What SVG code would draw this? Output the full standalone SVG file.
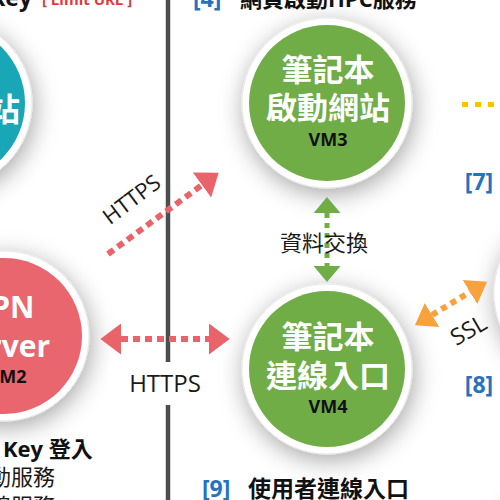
<svg xmlns="http://www.w3.org/2000/svg" width="500" height="500" viewBox="0 0 500 500">
<style>
.cjk{font-family:"Open Sans","Noto Sans CJK TC","Noto Sans CJK SC",sans-serif}
.big{font-size:31px;font-weight:bold;fill:#fff;text-anchor:middle}
.vm{font-size:18px;font-weight:bold;fill:#111;text-anchor:middle}
.lbl{font-size:22px;fill:#1a1a1a}
.num{font-size:23px;font-weight:bold;fill:#2472c0}
.ttl{font-size:23px;font-weight:bold;fill:#111}
.ring{fill:#fff;stroke:#e8e8e8;stroke-width:1}
.dred{stroke:#e9636b;stroke-width:6;stroke-dasharray:7 5;fill:none}
.dgrn{stroke:#70ad47;stroke-width:5;stroke-dasharray:5 5;fill:none}
.dorg{stroke:#f9a23c;stroke-width:6;stroke-dasharray:6 5;fill:none}
</style>
<defs>
<filter id="sh" x="-50%" y="-50%" width="200%" height="200%">
<feDropShadow dx="2" dy="6" stdDeviation="12" flood-color="#000" flood-opacity="0.35"/>
</filter>
<marker id="aR" viewBox="0 0 20 30" refX="0" refY="15" markerWidth="21" markerHeight="31" markerUnits="userSpaceOnUse" orient="auto-start-reverse"><path d="M0,0 L20,15 L0,30 Z" fill="#e9636b"/></marker>
<marker id="aG" viewBox="0 0 16 27" refX="0" refY="13.5" markerWidth="17" markerHeight="27" markerUnits="userSpaceOnUse" orient="auto-start-reverse"><path d="M0,0 L16,13.5 L0,27 Z" fill="#70ad47"/></marker>
<marker id="aO" viewBox="0 0 20 28" refX="0" refY="14" markerWidth="20" markerHeight="28" markerUnits="userSpaceOnUse" orient="auto-start-reverse"><path d="M0,0 L20,14 L0,28 Z" fill="#f9a23c"/></marker>
</defs>
<rect width="500" height="500" fill="#fff"/>

<!-- divider -->
<line x1="168" y1="0" x2="168" y2="500" stroke="#4d4d4d" stroke-width="4.5"/>

<!-- offscreen right circles -->
<g id="right-nodes">
<circle cx="580" cy="293" r="86" class="ring" filter="url(#sh)"/>
<circle cx="582" cy="560" r="90" class="ring" filter="url(#sh)"/>
</g>

<!-- top labels -->
<g id="top-labels" class="cjk">
<text x="32" y="6" text-anchor="end" class="ttl">USB Key</text>
<text x="42" y="5" style="font-size:15px;font-weight:bold;fill:#e03a3a">[ Limit URL ]</text>
<text x="193" y="7" class="num">[4]</text>
<text x="240" y="7" class="ttl" style="font-size:22px">網頁啟動HPC服務</text>
</g>

<g id="node-teal">
<circle cx="-53" cy="103" r="85" class="ring" filter="url(#sh)"/>
<circle cx="-53" cy="103" r="78" fill="#19a6b6"/>
<text x="20" y="121" text-anchor="end" class="cjk" style="font-size:32px;font-weight:bold;fill:#fff">網站</text>
</g>

<g id="node-vm2">
<circle cx="4" cy="336" r="85" class="ring" filter="url(#sh)"/>
<circle cx="4" cy="336" r="78" fill="#e9666e"/>
<text x="3" y="318" class="cjk big" style="font-size:30px">VPN</text>
<text x="2" y="357" class="cjk big" style="font-size:30px">Server</text>
<text x="7" y="383" class="cjk vm">VM2</text>
</g>

<g id="node-vm3">
<circle cx="327" cy="103" r="85" class="ring" filter="url(#sh)"/>
<circle cx="327" cy="103" r="78" fill="#70ad47"/>
<text x="328" y="81" class="cjk big">筆記本</text>
<text x="328" y="119" class="cjk big">啟動網站</text>
<text x="328" y="146" class="cjk vm">VM3</text>
</g>

<g id="node-vm4">
<circle cx="327" cy="369" r="85" class="ring" filter="url(#sh)"/>
<circle cx="327" cy="369" r="78" fill="#70ad47"/>
<text x="328" y="348" class="cjk big">筆記本</text>
<text x="328" y="387" class="cjk big">連線入口</text>
<text x="328" y="413" class="cjk vm">VM4</text>
</g>

<g id="connectors">
<!-- diagonal HTTPS -->
<line x1="108" y1="254" x2="202" y2="185" class="dred" marker-end="url(#aR)"/>
<text x="132" y="207" transform="rotate(-37 132 200)" text-anchor="middle" class="cjk" style="font-size:22px;fill:#1a1a1a">HTTPS</text>
<!-- horizontal HTTPS -->
<line x1="121" y1="339" x2="209" y2="339" class="dred" marker-start="url(#aR)" marker-end="url(#aR)"/>
<rect x="108" y="362" width="96" height="43" fill="#fff"/>
<text x="165" y="392" text-anchor="middle" class="cjk" style="font-size:24px;fill:#1a1a1a">HTTPS</text>
<!-- data exchange -->
<line x1="327" y1="213" x2="327" y2="266" class="dgrn" marker-start="url(#aG)" marker-end="url(#aG)"/>
<text x="324" y="251" text-anchor="middle" class="cjk lbl">資料交換</text>
<!-- SSL -->
<line x1="432" y1="315" x2="470" y2="292" class="dorg" marker-start="url(#aO)" marker-end="url(#aO)"/>
<text x="469" y="338" transform="rotate(-30 469 331)" text-anchor="middle" class="cjk" style="font-size:23px;fill:#1a1a1a">SSL</text>
<!-- dots to right -->
<line x1="462" y1="104.5" x2="500" y2="104.5" stroke="#ffc000" stroke-width="5" stroke-dasharray="6 7"/>
</g>

<g id="side-labels" class="cjk">
<text x="479" y="190" text-anchor="middle" class="num">[7]</text>
<text x="479" y="393" text-anchor="middle" class="num">[8]</text>
<text x="202" y="497" class="num">[9]</text>
<text x="248" y="497" class="ttl">使用者連線入口</text>
<text x="3" y="457" class="ttl" style="font-size:22px">Key 登入</text>
<text x="55" y="485" text-anchor="end" class="lbl">啟動服務</text>
<text x="55" y="514" text-anchor="end" class="lbl">連線服務</text>
</g>
</svg>
